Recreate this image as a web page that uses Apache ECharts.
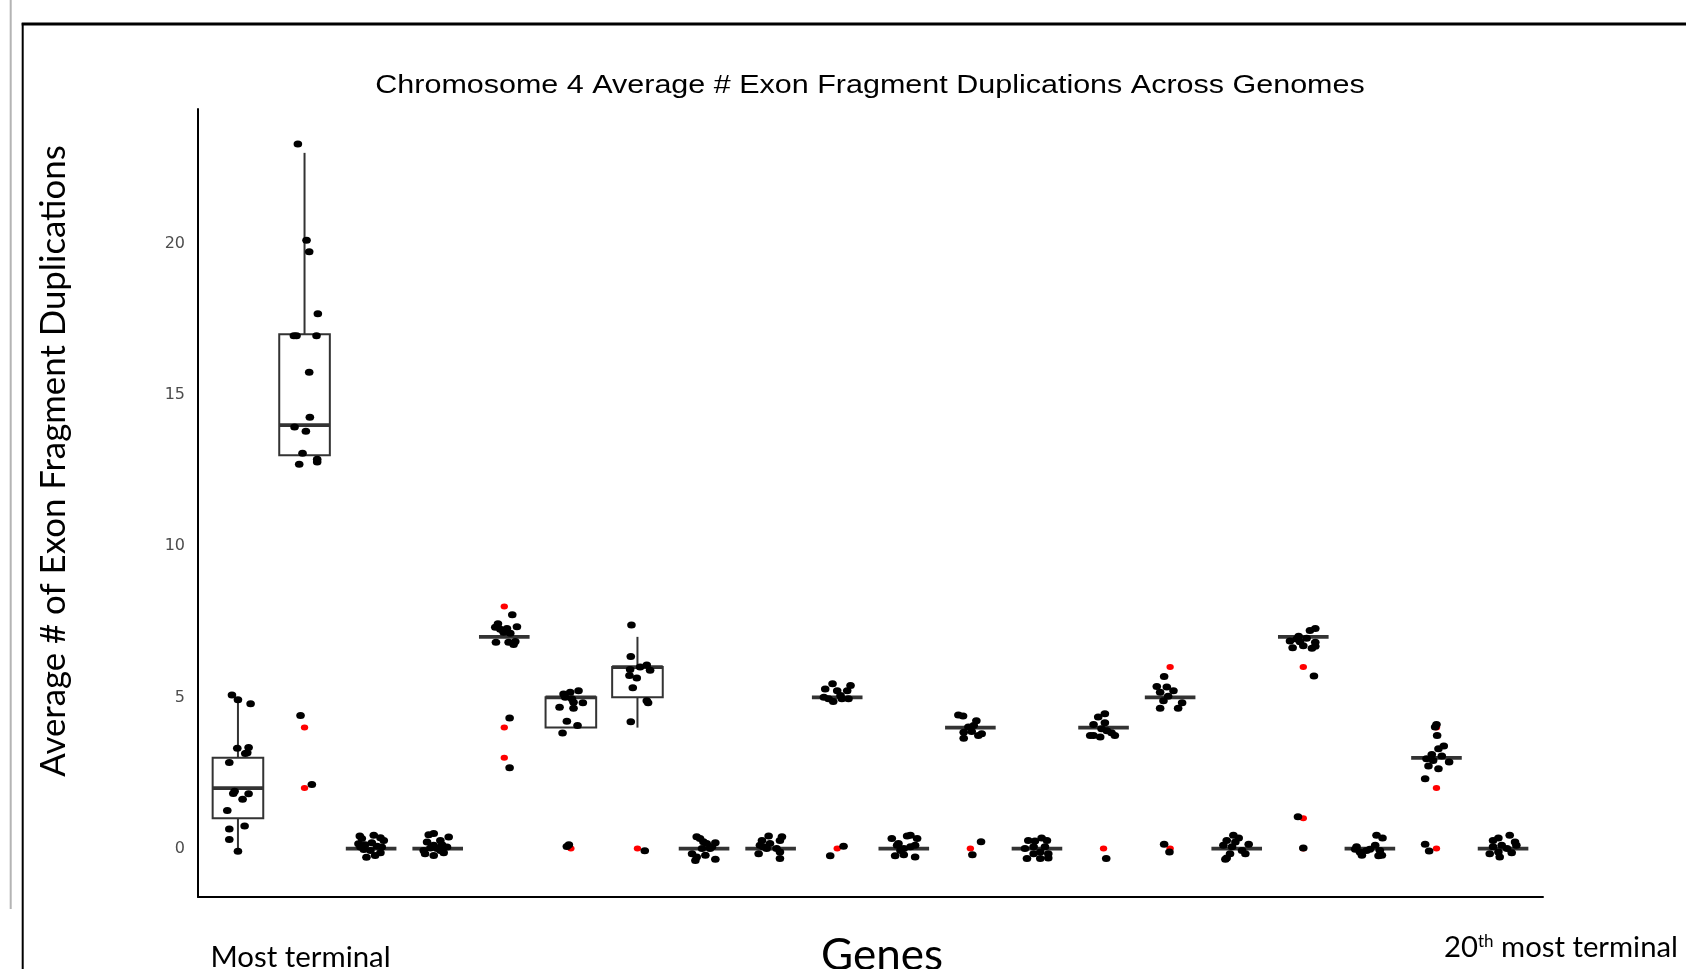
<!DOCTYPE html>
<html>
<head>
<meta charset="utf-8">
<script src="https://cdn.jsdelivr.net/npm/echarts@6.0.0/dist/echarts.min.js"></script>
<style>
  html, body { margin: 0; padding: 0; background: #ffffff; }
  #chart { width: 1686px; height: 969px; }
</style>
</head>
<body>
<div id="chart"></div>
<script>
// ---- data ----
const geneIds = [1,2,3,4,5,6,7,8,9,10,11,12,13,14,15,16,17,18,19,20];
const boxMin    = [0, 13, 0, 0, 7, 4, 4, 0, 0, 5, 0, 4, 0, 4, 5, 0, 7, 0, 3, 0];
const boxQ1     = [1, 13, 0, 0, 7, 4, 5, 0, 0, 5, 0, 4, 0, 4, 5, 0, 7, 0, 3, 0];
const boxMedian = [2, 14, 0, 0, 7, 5, 6, 0, 0, 5, 0, 4, 0, 4, 5, 0, 7, 0, 3, 0];
const boxQ3     = [3, 17, 0, 0, 7, 5, 6, 0, 0, 5, 0, 4, 0, 4, 5, 0, 7, 0, 3, 0];
const boxMax    = [5, 23, 0, 0, 7, 5, 7, 0, 0, 5, 0, 4, 0, 4, 5, 0, 7, 0, 3, 0];

const outlierGene  = [2, 2, 5, 5, 5, 6, 7, 10, 12, 14, 15, 15, 17, 17, 17, 19, 19, 19];
const outlierValue = [4, 2, 8, 4, 3, 0, 0, 0,  0,  0,  6,  0,  6,  1,  0,  4,  2,  0];

const yTickValues = [0, 5, 10, 15, 20];

// genome observations: [gene, jitter offset, value]
const jitteredGenomes = [
  [1,-0.09,5.08],[1,0,4.92],[1,0.19,4.79],[1,-0.01,3.32],[1,0.16,3.34],[1,0.11,3.14],[1,0.14,3.17],[1,-0.13,2.85],
  [1,-0.05,1.90],[1,-0.07,1.82],[1,0.16,1.81],[1,0.07,1.63],[1,-0.16,1.26],[1,0.10,0.75],[1,-0.13,0.65],[1,-0.13,0.30],[1,0,-0.09],
  [2,-0.10,23.29],[2,0.03,20.11],[2,0.07,19.73],[2,0.20,17.68],[2,-0.16,16.95],[2,-0.12,16.95],[2,0.18,16.95],[2,0.07,15.75],
  [2,0.08,14.26],[2,-0.15,13.94],[2,0.02,13.80],[2,-0.03,13.07],[2,0.19,12.87],[2,0.19,12.78],[2,-0.08,12.71],[2,-0.06,4.40],[2,0.11,2.12],
  [3,-0.17,0.42],[3,-0.14,0.33],[3,0.04,0.44],[3,0.14,0.36],[3,0.19,0.27],[3,-0.19,0.16],[3,-0.09,0.13],[3,0.01,0.19],
  [3,0.09,0.08],[3,-0.11,-0.03],[3,-0.01,-0.06],[3,0.14,-0.14],[3,0.06,-0.23],[3,-0.07,-0.29],[3,-0.16,0.05],[3,0.16,0.05],
  [4,-0.135,0.46],[4,-0.06,0.50],[4,0.165,0.38],[4,-0.16,0.22],[4,0.04,0.27],[4,-0.06,0.11],[4,0.065,0.13],[4,-0.21,-0.06],
  [4,-0.01,0.0],[4,0.14,0.05],[4,-0.19,-0.17],[4,-0.06,-0.23],[4,0.09,-0.14],[4,0.04,-0.06],[4,-0.11,0.02],
  [5,0.12,7.73],[5,-0.095,7.43],[5,-0.135,7.32],[5,0.04,7.28],[5,0.19,7.33],[5,-0.06,7.25],[5,-0.01,7.15],[5,0.09,7.12],
  [5,-0.125,6.82],[5,0.065,6.82],[5,0.165,6.85],[5,0.14,6.75],[5,0.08,4.32],[5,0.08,2.67],
  [6,-0.11,5.11],[6,-0.01,5.17],[6,0.115,5.22],[6,-0.085,5.0],[6,0.015,4.95],[6,0.04,4.84],[6,0.18,4.82],[6,-0.17,4.67],
  [6,0.04,4.64],[6,-0.06,4.21],[6,0.10,4.07],[6,-0.125,3.82],[6,-0.06,0.07],[6,-0.03,0.13],
  [7,-0.09,7.39],[7,-0.10,6.35],[7,0.14,6.07],[7,0.04,6.0],[7,-0.11,5.92],[7,0.19,5.9],[7,-0.12,5.72],[7,-0.01,5.64],
  [7,-0.07,5.32],[7,0.14,4.89],[7,0.16,4.82],[7,-0.10,4.19],[7,0.11,-0.07],
  [8,-0.11,0.39],[8,-0.06,0.33],[8,0.17,0.19],[8,0.04,0.17],[8,-0.03,0.0],[8,0.12,0.06],[8,-0.18,-0.17],[8,-0.11,-0.28],
  [8,0.02,-0.22],[8,0.17,-0.35],[8,-0.13,-0.39],[8,0.09,0.0],[8,-0.01,0.23],
  [9,-0.03,0.42],[9,0.17,0.39],[9,0.14,0.27],[9,-0.13,0.27],[9,-0.16,0.11],[9,-0.06,0.0],[9,0.09,0.0],[9,-0.18,-0.17],
  [9,0.14,-0.11],[9,0.14,-0.33],[9,-0.11,0.06],[9,-0.01,0.17],
  [10,-0.07,5.45],[10,0.20,5.39],[10,-0.18,5.28],[10,0.0,5.22],[10,0.15,5.22],[10,-0.20,5.0],[10,-0.06,4.86],[10,0.07,4.95],
  [10,0.17,4.95],[10,-0.13,4.95],[10,0.05,5.06],[10,0.095,0.08],[10,-0.105,-0.24],
  [11,-0.18,0.33],[11,0.05,0.42],[11,0.10,0.44],[11,0.20,0.33],[11,-0.08,0.17],[11,0.17,0.11],[11,0.0,0.0],[11,0.10,0.06],
  [11,-0.13,-0.24],[11,0.0,-0.2],[11,0.17,-0.28],[11,-0.05,-0.06],[11,-0.10,0.11],
  [12,-0.18,4.42],[12,-0.11,4.38],[12,0.09,4.23],[12,-0.03,4.02],[12,-0.10,3.85],[12,0.02,3.87],[12,0.17,3.80],[12,0.12,3.74],
  [12,-0.10,3.65],[12,0.05,4.07],[12,0.16,0.23],[12,0.03,-0.2],
  [13,-0.13,0.27],[13,-0.03,0.25],[13,0.07,0.35],[13,0.15,0.27],[13,-0.18,0.0],[13,-0.05,0.06],[13,0.12,0.06],[13,0.17,-0.17],
  [13,-0.05,-0.17],[13,0.05,-0.11],[13,-0.15,-0.33],[13,0.05,-0.33],[13,0.17,-0.31],
  [14,0.02,4.46],[14,-0.08,4.35],[14,-0.15,4.10],[14,0.02,4.16],[14,-0.03,3.96],[14,0.05,3.90],[14,-0.15,3.74],[14,-0.05,3.69],
  [14,0.17,3.74],[14,-0.20,3.74],[14,0.12,3.83],[14,0.04,-0.33],
  [15,-0.09,5.69],[15,-0.20,5.36],[15,-0.05,5.34],[15,-0.15,5.17],[15,0.05,5.22],[15,-0.03,5.04],[15,-0.10,4.89],[15,0.18,4.82],
  [15,-0.15,4.64],[15,0.12,4.64],[15,-0.09,0.14],[15,-0.01,-0.11],
  [16,-0.05,0.44],[16,0.03,0.35],[16,-0.15,0.27],[16,0.18,0.14],[16,-0.20,0.11],[16,-0.07,0.06],[16,0.08,-0.06],[16,0.13,-0.17],
  [16,-0.10,-0.17],[16,-0.15,-0.31],[16,-0.17,-0.35],[16,-0.02,0.22],
  [17,0.18,7.28],[17,0.10,7.21],[17,-0.07,7.02],[17,0.05,6.95],[17,-0.20,6.86],[17,-0.05,6.84],[17,0.18,6.82],[17,0.0,6.71],
  [17,0.18,6.69],[17,0.13,6.62],[17,-0.16,6.64],[17,-0.10,6.93],[17,0.16,5.71],[17,-0.08,1.05],[17,0.0,0.02],
  [18,0.10,0.44],[18,0.19,0.35],[18,-0.20,0.06],[18,0.08,0.11],[18,0.0,-0.02],[18,-0.15,-0.11],[18,0.15,-0.06],[18,0.18,-0.22],
  [18,-0.12,-0.22],[18,0.13,-0.24],[18,-0.22,-0.02],[18,-0.05,-0.06],
  [19,0.0,4.10],[19,-0.02,4.02],[19,0.01,3.74],[19,0.11,3.39],[19,0.03,3.30],[19,-0.07,3.11],[19,0.08,3.06],[19,-0.15,2.97],
  [19,-0.05,2.91],[19,0.19,2.86],[19,-0.12,2.73],[19,0.03,2.64],[19,-0.17,2.31],[19,-0.17,0.14],[19,-0.11,-0.08],
  [20,-0.15,0.27],[20,-0.07,0.35],[20,0.10,0.44],[20,0.18,0.22],[20,-0.02,0.11],[20,0.20,0.11],[20,-0.20,-0.17],[20,0.13,-0.14],
  [20,-0.05,-0.28],[20,-0.07,-0.11],[20,0.06,0.0],[20,-0.15,0.06]
];

// ---- build series data ----
const boxData = geneIds.map((g, i) => [g, boxMin[i], boxQ1[i], boxMedian[i], boxQ3[i], boxMax[i]]);
const outlierData = outlierGene.map((g, i) => [g, outlierValue[i]]);
const pointData = jitteredGenomes.map(p => [p[0] + p[1], p[2]]);

const chart = echarts.init(document.getElementById('chart'), null, { renderer: 'canvas' });

const boxStroke = '#333333';
function renderBox(params, api) {
  const g = api.value(0), mn = api.value(1), q1 = api.value(2), md = api.value(3), q3 = api.value(4), mx = api.value(5);
  const w = api.size([0.76, 0])[0];
  const pMed = api.coord([g, md]);
  const cx = pMed[0];
  const yq1 = api.coord([g, q1])[1], yq3 = api.coord([g, q3])[1];
  const ymn = api.coord([g, mn])[1], ymx = api.coord([g, mx])[1];
  const children = [];
  if (mx > q3) children.push({ type: 'line', shape: { x1: cx, y1: yq3, x2: cx, y2: ymx }, style: { stroke: boxStroke, lineWidth: 2 } });
  if (mn < q1) children.push({ type: 'line', shape: { x1: cx, y1: yq1, x2: cx, y2: ymn }, style: { stroke: boxStroke, lineWidth: 2 } });
  if (q3 > q1) children.push({ type: 'rect', shape: { x: cx - w / 2, y: yq3, width: w, height: yq1 - yq3 }, style: { fill: '#ffffff', stroke: boxStroke, lineWidth: 2 } });
  children.push({ type: 'line', shape: { x1: cx - w / 2, y1: pMed[1], x2: cx + w / 2, y2: pMed[1] }, style: { stroke: boxStroke, lineWidth: 3.6 } });
  return { type: 'group', children };
}

const option = {
  animation: false,
  backgroundColor: '#ffffff',
  grid: { left: 198, right: 143, top: 109, bottom: 72, containLabel: false },
  xAxis: {
    type: 'value', min: 0.4, max: 20.6,
    axisLine: { show: true, onZero: false, lineStyle: { color: '#000000', width: 2 } },
    axisTick: { show: false }, axisLabel: { show: false }, splitLine: { show: false }
  },
  yAxis: {
    type: 'value', min: -1.6, max: 24.45,
    axisLine: { show: true, onZero: false, lineStyle: { color: '#000000', width: 2 } },
    axisTick: { show: false }, splitLine: { show: false },
    axisLabel: { customValues: yTickValues, color: '#4d4d4d', fontSize: 16, fontFamily: 'DejaVu Sans', margin: 13 }
  },
  series: [
    { type: 'custom', name: 'box', z: 1, renderItem: renderBox, data: boxData,
      encode: { x: 0, y: [1, 2, 3, 4, 5] }, silent: true },
    { type: 'scatter', name: 'outliers', z: 2, data: outlierData, symbol: 'circle',
      symbolSize: [7.4, 6], itemStyle: { color: '#ff0000', opacity: 1 }, silent: true },
    { type: 'scatter', name: 'genomes', z: 3, data: pointData, symbol: 'circle',
      symbolSize: [8.6, 7], itemStyle: { color: '#000000', opacity: 1 }, silent: true }
  ],
  graphic: { elements: [
    { type: 'line', shape: { x1: 10.7, y1: 0, x2: 10.7, y2: 909 }, style: { stroke: '#b4b4b4', lineWidth: 2 }, silent: true },
    { type: 'line', shape: { x1: 22.7, y1: 23, x2: 22.7, y2: 969 }, style: { stroke: '#000000', lineWidth: 2 }, silent: true },
    { type: 'line', shape: { x1: 21.7, y1: 24, x2: 1686, y2: 24 }, style: { stroke: '#000000', lineWidth: 3 }, silent: true },
    { type: 'text', x: 870, y: 86, scaleX: 1.22, silent: true,
      style: { text: 'Chromosome 4 Average # Exon Fragment Duplications Across Genomes', fontSize: 25,
               fontFamily: 'Liberation Sans', fill: '#000000', align: 'center', verticalAlign: 'middle' } },
    { type: 'text', x: 53.5, y: 461, rotation: Math.PI / 2, silent: true,
      style: { text: 'Average # of Exon Fragment Duplications', fontSize: 34.8,
               fontFamily: 'Lato', fill: '#000000', align: 'center', verticalAlign: 'middle' } },
    { type: 'text', x: 882, y: 956, silent: true,
      style: { text: 'Genes', fontSize: 44, fontFamily: 'Lato', fill: '#000000', align: 'center', verticalAlign: 'middle' } },
    { type: 'text', x: 210.5, y: 957.4, silent: true,
      style: { text: 'Most terminal', fontSize: 29.4, fontFamily: 'Lato', fill: '#000000', align: 'left', verticalAlign: 'middle' } },
    { type: 'text', x: 1444, y: 948, silent: true,
      style: { text: '20{sup|th} most terminal', fontSize: 29.3, fontFamily: 'Lato', fill: '#000000', align: 'left', verticalAlign: 'middle',
               rich: { sup: { fontSize: 17, fontFamily: 'Lato', fill: '#000000', verticalAlign: 'top' } } } }
  ] }
};
chart.setOption(option);
</script>
</body>
</html>
